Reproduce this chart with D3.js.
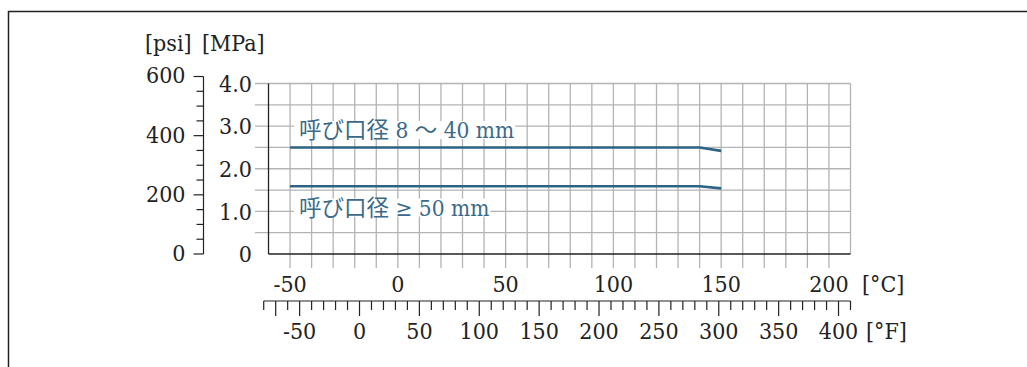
<!DOCTYPE html>
<html>
<head>
<meta charset="utf-8">
<script src="https://cdn.jsdelivr.net/npm/d3@7/dist/d3.min.js"></script>
<style>
  body { margin: 0; background: #fff; }
  text { font-family: "DejaVu Serif Condensed", "DejaVu Serif", "Noto Sans CJK JP", serif; fill: #222; }
</style>
</head>
<body>
<div id="chart"></div>
<script>
// pressure-temperature rating, nominal diameter curves
var tempC = [-50, 140, 150];
var dn8_40 = [2.5, 2.5, 2.42];   // MPa
var dn50 = [1.59, 1.59, 1.54];   // MPa
var seriesNames = ["呼び口径 8 ～ 40 mm", "呼び口径 ≥ 50 mm"];

var mpaTicks = [0, 1.0, 2.0, 3.0, 4.0];
var psiTicks = [0, 200, 400, 600];
var cTicks = [-50, 0, 50, 100, 150, 200];
var fTicks = [-50, 0, 50, 100, 150, 200, 250, 300, 350, 400];

var width = 1027, height = 367;

var svg = d3.select("#chart").append("svg")
    .attr("width", width)
    .attr("height", height);

// frame
svg.append("path")
  .attr("d", "M8.5," + height + "V11.5H" + width)
  .attr("fill", "none")
  .attr("stroke", "#222")
  .attr("stroke-width", 1.5);

var x = d3.scaleLinear().domain([-60, 210]).range([268.5, 850.5]);
var y = d3.scaleLinear().domain([0, 4]).range([254, 83.5]);
var yPsi = d3.scaleLinear().domain([0, 600]).range([254, 76.5]);
var xF = function(f) { return x((f - 32) * 5 / 9); };

var gridColor = "#b3b3b3";
var g = svg.append("g");

// vertical grid every 10 C
d3.range(-50, 201, 10).forEach(function(c) {
  g.append("line")
    .attr("x1", x(c)).attr("x2", x(c))
    .attr("y1", y(4)).attr("y2", 268)
    .attr("stroke", gridColor).attr("stroke-width", 1.3);
});
g.append("line")
  .attr("x1", x(210)).attr("x2", x(210))
  .attr("y1", y(4)).attr("y2", y(0))
  .attr("stroke", gridColor).attr("stroke-width", 1.3);

// horizontal grid every 0.5 MPa
d3.range(0.5, 4.01, 0.5).forEach(function(p) {
  g.append("line")
    .attr("x1", 255).attr("x2", x(210))
    .attr("y1", y(p)).attr("y2", y(p))
    .attr("stroke", gridColor).attr("stroke-width", 1.3);
});

// main axes
svg.append("line")
  .attr("x1", x(-60)).attr("x2", x(-60))
  .attr("y1", y(4)).attr("y2", y(0))
  .attr("stroke", "#222").attr("stroke-width", 1.3);
svg.append("line")
  .attr("x1", x(-60)).attr("x2", x(210))
  .attr("y1", y(0)).attr("y2", y(0))
  .attr("stroke", "#222").attr("stroke-width", 1.3);

var fontSize = 23;

// MPa labels
svg.selectAll(".mpa").data(mpaTicks).enter().append("text")
  .attr("x", 252).attr("y", function(d) { return y(d); })
  .attr("dy", "0.36em")
  .attr("text-anchor", "end")
  .style("font-size", fontSize + "px")
  .text(function(d) { return d === 0 ? "0" : d.toFixed(1); });

// psi axis
var psiAxis = svg.append("g")
  .attr("transform", "translate(203.5,0)");
psiAxis.append("line")
  .attr("y1", yPsi(600)).attr("y2", yPsi(0))
  .attr("stroke", "#222").attr("stroke-width", 1.2);
d3.range(0, 601, 50).forEach(function(p) {
  var major = psiTicks.indexOf(p) >= 0;
  psiAxis.append("line")
    .attr("x1", major ? -10 : -7).attr("x2", 0)
    .attr("y1", yPsi(p)).attr("y2", yPsi(p))
    .attr("stroke", "#222").attr("stroke-width", 1.2);
});
psiAxis.selectAll("text").data(psiTicks).enter().append("text")
  .attr("x", -18).attr("y", function(d) { return yPsi(d); })
  .attr("dy", "0.3em")
  .attr("text-anchor", "end")
  .style("font-size", fontSize + "px")
  .text(function(d) { return d; });

// unit labels
svg.append("text").attr("x", 145).attr("y", 51)
  .style("font-size", fontSize + "px").text("[psi]");
svg.append("text").attr("x", 202).attr("y", 51)
  .style("font-size", fontSize + "px").text("[MPa]");

// C labels
svg.selectAll(".cl").data(cTicks).enter().append("text")
  .attr("x", function(d) { return x(d); })
  .attr("y", 292)
  .attr("text-anchor", "middle")
  .style("font-size", fontSize + "px")
  .text(function(d) { return d; });
svg.append("text").attr("x", 862).attr("y", 292)
  .style("font-size", fontSize + "px").text("[°C]");

// F axis
var fy = 301;
svg.append("line")
  .attr("x1", xF(-80)).attr("x2", xF(410))
  .attr("y1", fy).attr("y2", fy)
  .attr("stroke", "#222").attr("stroke-width", 1.2);
d3.range(-80, 411, 10).forEach(function(f) {
  var major = f === -70 || fTicks.indexOf(f) >= 0;
  svg.append("line")
    .attr("x1", xF(f)).attr("x2", xF(f))
    .attr("y1", fy).attr("y2", fy + (major ? 15 : 9))
    .attr("stroke", "#222").attr("stroke-width", 1.2);
});
svg.selectAll(".fl").data(fTicks).enter().append("text")
  .attr("x", function(d) { return xF(d); })
  .attr("y", 339)
  .attr("text-anchor", "middle")
  .style("font-size", fontSize + "px")
  .text(function(d) { return d; });
svg.append("text").attr("x", 866).attr("y", 339)
  .style("font-size", fontSize + "px").text("[°F]");

// curves
var line = d3.line()
  .x(function(d) { return x(d[0]); })
  .y(function(d) { return y(d[1]); });

var lineColor = "#2d6485";
[dn8_40, dn50].forEach(function(s) {
  svg.append("path")
    .datum(d3.zip(tempC, s))
    .attr("d", line)
    .attr("fill", "none")
    .attr("stroke", lineColor)
    .attr("stroke-width", 2.6);
});

// series labels with white backing
var labelPos = [[299, 138], [299, 215.5]];
seriesNames.forEach(function(name, i) {
  var t = svg.append("text")
    .attr("x", labelPos[i][0]).attr("y", labelPos[i][1])
    .style("font-size", "22.5px")
    .style("fill", "#3b6a88")
    .text(name);
  var bb = t.node().getBBox();
  svg.insert("rect", function() { return t.node(); })
    .attr("x", bb.x - 5).attr("y", bb.y + 4)
    .attr("width", bb.width + 6).attr("height", bb.height - 8)
    .attr("fill", "#fff");
});
</script>
</body>
</html>
